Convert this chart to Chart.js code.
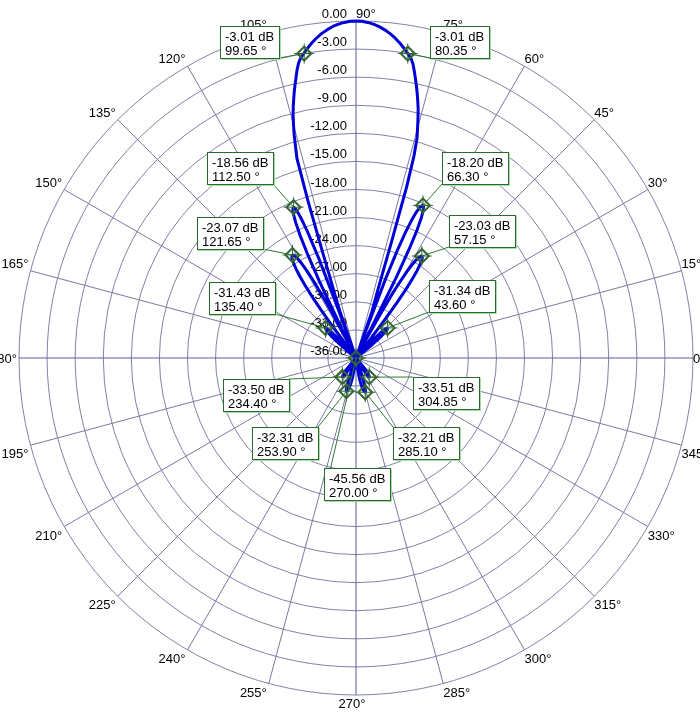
<!DOCTYPE html>
<html><head><meta charset="utf-8">
<script src="https://cdn.jsdelivr.net/npm/chart.js@4/dist/chart.umd.min.js"></script>
<style>html,body{margin:0;padding:0;background:#fff;overflow:hidden}#wrap{position:absolute;left:0;top:0;width:700px;height:715px}</style>
</head><body><div id="wrap"><canvas id="c"></canvas></div>
<script>
// ---- data ----
const DB_MIN = -36, DB_MAX = 0, DB_STEP = 3;
const dbTickLabels = ['0.00','-3.00','-6.00','-9.00','-12.00','-15.00','-18.00','-21.00','-24.00','-27.00','-30.00','-33.00','-36.00'];
const angleTickLabels = [0,15,30,45,60,75,90,105,120,135,150,165,180,195,210,225,240,255,270,285,300,315,330,345];
const ANG_STEP = 0.5;

const patternAngles = [
 38,38.5,39,39.5,40,40.5,41,41.5,42,42.5,43,43.5,44,44.5,45,45.5,46,46.5,47,47.5,48,48.5,
 52,52.5,53,53.5,54,54.5,55,55.5,56,56.5,57,57.5,58,58.5,59,59.5,60,60.5,61,61.5,62,
 62.5,63,63.5,64,64.5,65,65.5,66,66.5,67,67.5,68,68.5,69,69.5,70,70.5,
 71,72,72.5,73,73.5,74,74.5,75,75.5,76,76.5,77,77.5,78,78.5,79,79.5,80,80.5,81,82,83,84,85,86,87,88,89,90,
 91,92,93,94,95,96,97,98,99,99.5,100,100.5,101,101.5,102,102.5,103,103.5,104,104.5,105,105.5,106,106.5,107,107.5,108,108.5,109,109.5,
 110,110.5,111,111.5,112,112.5,113,113.5,114,114.5,115,115.5,116,116.5,
 117,117.5,118,118.5,119,119.5,120,120.5,121,121.5,122,122.5,123,123.5,124,124.5,125,125.5,126,126.5,127,127.5,
 130.5,131,131.5,132,132.5,133,133.5,134,134.5,135,135.5,136,136.5,137,137.5,138,138.5,139,139.5,140,140.5,141,141.5,
 228.5,229,230,231,232,233,234,234.5,235,236,237,238,239,239.5,
 249,249.5,250,251,252,253,254,255,256,257,258,259,260,261,262,263,
 276.5,277,278,279,280,281,282,283,284,285,286,287,288,289,290,290.5,291,
 300,300.5,301,302,303,304,305,306,307,308,309,310,311
];
const patternDb = [
 -36,-35.82,-34.85,-34.04,-33.37,-32.81,-32.36,-32.0,-31.72,-31.52,-31.39,-31.34,-31.37,-31.48,-31.68,-31.97,-32.37,-32.87,-33.5,-34.27,-35.2,-36,
 -36,-34.27,-30.88,-28.58,-26.9,-25.64,-24.68,-23.98,-23.48,-23.17,-23.04,-23.08,-23.3,-23.73,-24.38,-25.29,-26.51,-28.16,-30.43,-33.8,-36,
 -36,-31.92,-26.13,-22.92,-20.86,-19.52,-18.68,-18.27,-18.22,-18.5,-19.1,-20.08,-21.55,-23.68,-26.95,-32.8,-36,
 -30.8,-29,-27,-23,-17,-13.5,-11.6,-10.6,-9.55,-8.55,-7.75,-6.95,-6.2,-5.48,-4.75,-4.05,-3.55,-3.23,-2.92,-2.62,-2.07,-1.58,-1.16,-0.81,-0.52,-0.29,-0.13,-0.03,0,
 -0.03,-0.13,-0.28,-0.5,-0.79,-1.13,-1.54,-2.02,-2.56,-2.86,-3.16,-3.46,-3.88,-4.5,-5.25,-5.98,-6.72,-7.5,-8.3,-9.15,-10.2,-11.3,-12.6,-13.8,-18.5,-24,-27.5,-29.2,-30.6,-36,
 -30.3,-24.58,-21.57,-19.81,-18.86,-18.56,-18.73,-19.25,-20.17,-21.57,-23.66,-26.9,-32.76,-36,
 -36,-33.52,-30.17,-27.91,-26.29,-25.09,-24.22,-23.61,-23.24,-23.08,-23.1,-23.26,-23.56,-24.01,-24.63,-25.43,-26.47,-27.81,-29.54,-31.88,-35.29,-36,
 -36,-35.94,-34.83,-33.92,-33.19,-32.61,-32.16,-31.82,-31.59,-31.46,-31.43,-31.47,-31.57,-31.73,-31.95,-32.24,-32.6,-33.04,-33.55,-34.16,-34.89,-35.75,-36,
 -36,-35.71,-34.92,-34.33,-33.91,-33.64,-33.51,-33.5,-33.53,-33.75,-34.16,-34.8,-35.7,-36,
 -36,-35.25,-34.56,-33.5,-32.81,-32.42,-32.31,-32.36,-32.49,-32.71,-33.03,-33.43,-33.95,-34.59,-35.36,-36,
 -36,-35.74,-34.84,-34.08,-33.5,-33.03,-32.67,-32.42,-32.27,-32.21,-32.3,-32.61,-33.16,-33.99,-35.15,-35.89,-36,
 -36,-35.79,-35.26,-34.44,-33.89,-33.59,-33.51,-33.59,-33.8,-34.14,-34.62,-35.27,-36
];

const markerAngles = [99.65, 80.35, 112.50, 121.65, 135.40, 66.30, 57.15, 43.60, 234.40, 304.85, 253.90, 285.10, 270.00];
const markerDb     = [-3.01, -3.01, -18.56, -23.07, -31.43, -18.20, -23.03, -31.34, -33.50, -33.51, -32.31, -32.21, -45.56];

// ---- layout of annotation boxes (top-left corner, leader anchor as fraction of box) ----
const boxLayout = [
 [220,26,1,1],[430,26,0,1],[207,152,1,1],[197,217,1,1],[209,282,1,1],
 [442,152,0,1],[449,215,0,1],[429,280,0,1],[223,379,1,0],[413,377,0,0],
 [252,427,1,0],[393,427,0,0],[324,468,0.1,0]
];

const FONT = '13px "Liberation Sans", Arial, sans-serif';
const N = Math.round(360 / ANG_STEP);
const idxOf = a => ((((90 - a) % 360) + 360) % 360) / ANG_STEP;
const labels = Array.from({length: N}, (_, i) => String(((90 - i * ANG_STEP) % 360 + 360) % 360));
const series = new Array(N).fill(null);
patternAngles.forEach((a, k) => { series[Math.round(idxOf(a)) % N] = Math.max(patternDb[k], DB_MIN); });

const decor = {
  id: 'decor',
  beforeDatasetsDraw(chart) {
    const s = chart.scales.r, ctx = chart.ctx;
    ctx.save();
    ctx.font = FONT; ctx.fillStyle = '#000';
    ctx.textAlign = 'right'; ctx.textBaseline = 'alphabetic';
    s.ticks.forEach((t, k) => {
      const d = s.getDistanceFromCenterForValue(t.value);
      const lbl = dbTickLabels[dbTickLabels.length - 1 - k];
      ctx.fillText(lbl, s.xCenter - 9, s.yCenter - d - 3);
    });
    angleTickLabels.forEach(deg => {
      const p = s.getPointPosition(idxOf(deg), s.drawingArea);
      const c = Math.cos(deg * Math.PI / 180), sn = Math.sin(deg * Math.PI / 180);
      const txt = deg + '°';
      let x = p.x, y = p.y;
      if (Math.abs(c) < 0.01) { if (sn > 0) { ctx.textAlign = 'left'; } else { ctx.textAlign = 'center'; x -= 4; } }
      else if (c > 0) { ctx.textAlign = 'left'; }
      else { ctx.textAlign = 'right'; x -= 2; }
      if (Math.abs(sn) < 0.01) y += 5; else if (sn > 0) y -= 3; else y += 13;
      ctx.fillText(txt, x, y);
    });
    ctx.restore();
  },
  afterDatasetsDraw(chart) {
    const s = chart.scales.r, ctx = chart.ctx;
    ctx.save();
    ctx.font = FONT;
    const boxes = markerAngles.map((a, k) => {
      const p = s.getPointPosition(idxOf(a), s.getDistanceFromCenterForValue(Math.max(markerDb[k], DB_MIN)));
      const l1 = markerDb[k].toFixed(2) + ' dB', l2 = a.toFixed(2) + ' °';
      const w = Math.round(Math.max(ctx.measureText(l1).width, ctx.measureText(l2).width) + 10);
      const [bx, by, fx, fy] = boxLayout[k];
      return {p, l1, l2, bx, by, w, h: 32, ax: bx + fx * w, ay: by + fy * 32};
    });
    // leaders
    ctx.strokeStyle = '#2f7a2f'; ctx.lineWidth = 1;
    boxes.forEach(b => { ctx.beginPath(); ctx.moveTo(b.ax, b.ay); ctx.lineTo(b.p.x, b.p.y); ctx.stroke(); });
    // markers
    boxes.forEach(b => {
      const {x, y} = b.p;
      ctx.strokeStyle = '#336633'; ctx.lineWidth = 1;
      ctx.beginPath(); ctx.moveTo(x - 10, y); ctx.lineTo(x + 10, y); ctx.moveTo(x, y - 10); ctx.lineTo(x, y + 10); ctx.stroke();
      ctx.lineWidth = 2;
      ctx.beginPath(); ctx.moveTo(x, y - 7); ctx.lineTo(x + 7, y); ctx.lineTo(x, y + 7); ctx.lineTo(x - 7, y); ctx.closePath(); ctx.stroke();
    });
    // boxes
    boxes.forEach(b => {
      ctx.fillStyle = '#fff'; ctx.fillRect(b.bx, b.by, b.w, b.h);
      ctx.strokeStyle = '#a8dca8'; ctx.lineWidth = 1;
      ctx.beginPath(); ctx.moveTo(b.bx + b.w + 1.5, b.by + 1); ctx.lineTo(b.bx + b.w + 1.5, b.by + b.h + 1.5); ctx.lineTo(b.bx + 1, b.by + b.h + 1.5); ctx.stroke();
      ctx.strokeStyle = '#2a6a2a';
      ctx.strokeRect(b.bx + 0.5, b.by + 0.5, b.w, b.h);
      ctx.fillStyle = '#000'; ctx.textAlign = 'left'; ctx.textBaseline = 'alphabetic';
      ctx.fillText(b.l1, b.bx + 5, b.by + 15);
      ctx.fillText(b.l2, b.bx + 5, b.by + 29);
    });
    ctx.restore();
  }
};

new Chart(document.getElementById('c'), {
  type: 'radar',
  data: { labels, datasets: [{ data: series, borderColor: 'rgb(0,0,215)', borderWidth: 3, fill: false, pointRadius: 0, pointHoverRadius: 0, tension: 0, spanGaps: true, borderJoinStyle: 'round' }] },
  options: {
    responsive: true, maintainAspectRatio: false, animation: false,
    layout: { padding: { left: 19, top: 21, right: 7, bottom: 20 } },
    plugins: { legend: { display: false }, tooltip: { enabled: false } },
    events: [],
    scales: {
      r: {
        min: DB_MIN, max: DB_MAX,
        ticks: { display: false, stepSize: DB_STEP },
        pointLabels: { display: false },
        grid: { circular: true, color: 'rgb(128,128,168)', lineWidth: 1 },
        angleLines: {
          display: true,
          color: c => (c.index % Math.round(90 / ANG_STEP) === 0) ? 'rgb(92,92,165)' : 'rgb(120,120,165)',
          lineWidth: c => (c.index % Math.round(15 / ANG_STEP) === 0) ? 1 : 0
        }
      }
    }
  },
  plugins: [decor]
});
</script>
</body></html>
